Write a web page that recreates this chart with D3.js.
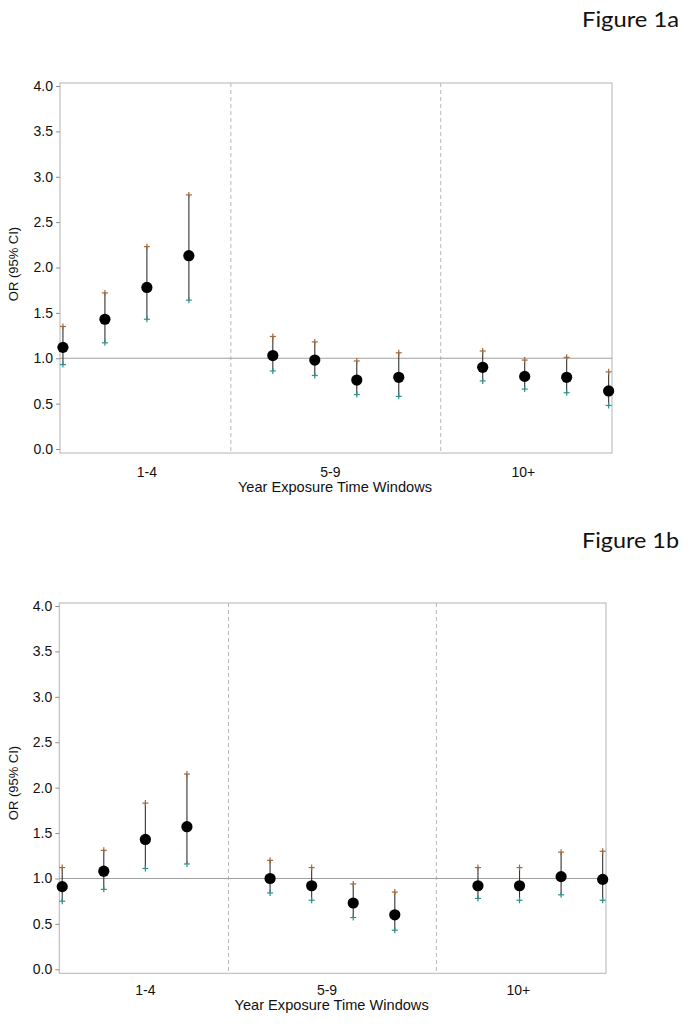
<!DOCTYPE html>
<html>
<head>
<meta charset="utf-8">
<script src="https://cdn.jsdelivr.net/npm/d3@7"></script>
<style>
  html, body { margin: 0; padding: 0; background: #fff; }
  svg { display: block; }
</style>
</head>
<body>
<svg id="chart" width="690" height="1024"></svg>
<script>
// ---- data ----
const groups = ["1-4", "5-9", "10+"];
const groupTickPos = [2.0, 6.37, 10.97];
const windowBreaks = [4, 9];
const xIndex = [0, 1, 2, 3, 5, 6, 7, 8, 10, 11, 12, 13];
const yTicks = [0, 0.5, 1, 1.5, 2, 2.5, 3, 3.5, 4];

// Figure 1a
const or1a = [1.12, 1.43, 1.78, 2.13, 1.03, 0.98, 0.76, 0.79, 0.90, 0.80, 0.79, 0.64];
const lo1a = [0.93, 1.17, 1.43, 1.64, 0.86, 0.81, 0.60, 0.58, 0.75, 0.66, 0.62, 0.48];
const hi1a = [1.35, 1.72, 2.23, 2.80, 1.24, 1.18, 0.97, 1.06, 1.08, 0.98, 1.01, 0.85];

// Figure 1b
const or1b = [0.91, 1.08, 1.43, 1.57, 1.00, 0.92, 0.73, 0.60, 0.92, 0.92, 1.02, 0.99];
const lo1b = [0.75, 0.88, 1.11, 1.16, 0.84, 0.76, 0.57, 0.43, 0.78, 0.76, 0.82, 0.76];
const hi1b = [1.12, 1.31, 1.83, 2.15, 1.20, 1.12, 0.94, 0.85, 1.12, 1.12, 1.29, 1.30];

const svg = d3.select("#chart");
const FONT = "'Liberation Sans', Arial, Helvetica, sans-serif";

function panel(cfg) {
  const g = svg.append("g");
  const x = d3.scaleLinear().domain([-0.07, 13.08]).range([cfg.left, cfg.right]);
  const y = d3.scaleLinear().domain([0, 4]).range([cfg.y0, cfg.y4]);
  const top = y(4) - 3, bottom = y(0) + 4;

  // frame
  g.append("rect")
    .attr("x", cfg.left).attr("y", top)
    .attr("width", cfg.right - cfg.left).attr("height", bottom - top)
    .attr("fill", "none").attr("stroke", "#b4b4b4").attr("stroke-width", 1);

  // dashed window separators
  g.selectAll("line.sep").data(windowBreaks).enter().append("line")
    .attr("x1", d => x(d)).attr("x2", d => x(d))
    .attr("y1", top).attr("y2", bottom)
    .attr("stroke", "#b8b8b8").attr("stroke-width", 1).attr("stroke-dasharray", "4,3");

  // reference line at OR = 1
  g.append("line")
    .attr("x1", cfg.left).attr("x2", cfg.right)
    .attr("y1", y(1)).attr("y2", y(1))
    .attr("stroke", "#a0a0a0").attr("stroke-width", 1.2);

  // y axis
  const ax = g.append("g")
    .attr("transform", `translate(${cfg.left},0)`)
    .call(d3.axisLeft(y).tickValues(yTicks).tickFormat(d3.format(".1f")).tickSize(4).tickSizeOuter(0).tickPadding(3));
  ax.select(".domain").remove();
  ax.selectAll(".tick line").attr("stroke", "#909090");
  ax.selectAll(".tick text")
    .attr("font-family", FONT)
    .attr("font-size", 14).attr("fill", "#111");

  // y title
  g.append("text")
    .attr("transform", `translate(${cfg.yTitleX},${cfg.yTitleY}) rotate(-90)`)
    .attr("text-anchor", "middle").attr("dominant-baseline", "middle")
    .attr("font-family", FONT)
    .attr("font-size", 13).attr("fill", "#111")
    .text("OR (95% CI)");

  // x group labels
  g.selectAll("text.grp").data(groups).enter().append("text")
    .attr("x", (d, i) => x(groupTickPos[i]))
    .attr("y", cfg.tickBase)
    .attr("text-anchor", "middle")
    .attr("font-family", FONT)
    .attr("font-size", 14).attr("fill", "#111")
    .text(d => d);

  g.append("text")
    .attr("x", (cfg.left + cfg.right) / 2 - 1)
    .attr("y", cfg.titleBase)
    .attr("text-anchor", "middle")
    .attr("font-family", FONT)
    .attr("font-size", 14.6).attr("fill", "#111")
    .text("Year Exposure Time Windows");

  const pts = xIndex.map((xi, i) => ({ xi, or: cfg.or[i], lo: cfg.lo[i], hi: cfg.hi[i] }));

  // CI bars
  g.selectAll("line.ci").data(pts).enter().append("line")
    .attr("x1", d => x(d.xi)).attr("x2", d => x(d.xi))
    .attr("y1", d => y(d.hi)).attr("y2", d => y(d.lo))
    .attr("stroke", "#333").attr("stroke-width", 1.1);

  // "+" markers for CI limits
  const plus = (sel, key, color) => {
    const m = sel.selectAll(null).data(pts).enter().append("g")
      .attr("transform", d => `translate(${x(d.xi)},${y(d[key])})`);
    m.append("line").attr("x1", -3).attr("x2", 3).attr("y1", 0).attr("y2", 0)
      .attr("stroke", color).attr("stroke-width", 1.2);
    m.append("line").attr("x1", 0).attr("x2", 0).attr("y1", -3).attr("y2", 3)
      .attr("stroke", color).attr("stroke-width", 1.2);
  };
  plus(g, "hi", "#a0683a");
  plus(g, "lo", "#2f8f8c");

  // point estimates
  g.selectAll("circle.pt").data(pts).enter().append("circle")
    .attr("cx", d => x(d.xi)).attr("cy", d => y(d.or))
    .attr("r", 5.6).attr("fill", "#000");

  // figure label
  svg.append("text")
    .attr("x", 582).attr("y", cfg.figBase)
    .attr("font-family", "Lato, 'Open Sans', sans-serif")
    .attr("font-size", 22).attr("fill", "#111")
    .attr("textLength", 97).attr("lengthAdjust", "spacingAndGlyphs")
    .text(cfg.label);
}

panel({
  label: "Figure 1a", figBase: 27,
  or: or1a, lo: lo1a, hi: hi1a,
  left: 60, right: 612, y0: 449, y4: 86,
  yTitleX: 15, yTitleY: 264,
  tickBase: 477, titleBase: 492
});

panel({
  label: "Figure 1b", figBase: 548,
  or: or1b, lo: lo1b, hi: hi1b,
  left: 59.3, right: 606, y0: 969.3, y4: 606,
  yTitleX: 15, yTitleY: 783,
  tickBase: 995, titleBase: 1010
});
</script>
</body>
</html>
